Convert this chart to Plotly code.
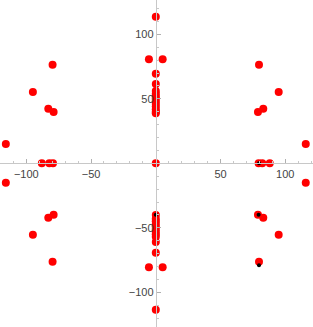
import plotly.graph_objects as go

# Red points
red_x = [0, 0, 0, 0, 0, 0, 0, 0, 0, 0, 0, 0, 0,
         0, 0, 0, 0, 0, 0, 0, 0, 0, 0, 0, 0,
         0,
         -5.3, 5.3, -5.3, 5.3,
         -79.7, 79.7, -79.7, 79.7,
         -94.9, 94.9, -94.9, 94.9,
         -83.0, 83.0, -83.0, 83.0,
         -78.9, 78.9, -78.9, 78.9,
         -115.8, 115.8, -115.8, 115.8,
         -88.0, 88.0, -82.2, 82.2, -79.4, 79.4]
red_y = [113.6, 69.5, 61.5, 56, 54, 52, 50, 48, 46, 44, 42, 40, 38.8,
         -113.6, -69.3, -61, -57, -55, -53, -51, -49, -47, -45, -43, -40,
         0,
         80.6, 80.6, -80.6, -80.6,
         76.4, 76.4, -76.4, -76.4,
         55.3, 55.3, -55.3, -55.3,
         42.3, 42.3, -42.3, -42.3,
         39.8, 39.8, -39.8, -39.8,
         15, 15, -15, -15,
         0, 0, 0, 0, 0, 0]

# Black points
black_x = [79.7, 0, 79.4, 79.7]
black_y = [0, -39.8, -39.8, -79.0]

x_ticks = [-100, -50, 50, 100]
y_ticks = [-100, -50, 50, 100]
minor_ticks = [v for v in range(-120, 130, 10) if v % 50 != 0]

x_range = [-120.3, 121.4]
y_range = [-126.9, 126.6]

fig = go.Figure()
fig.add_trace(go.Scatter(x=red_x, y=red_y, mode="markers",
                         marker=dict(color="#ff0000", size=8, line=dict(width=0)),
                         showlegend=False, cliponaxis=False))
fig.add_trace(go.Scatter(x=black_x, y=black_y, mode="markers",
                         marker=dict(color="#000000", size=4, line=dict(width=0)),
                         showlegend=False))

xpos = (0 - y_range[0]) / (y_range[1] - y_range[0])
ypos = (0 - x_range[0]) / (x_range[1] - x_range[0])

axis_common = dict(showgrid=False, zeroline=False, showline=True,
                   linecolor="#c8c8c8", linewidth=1,
                   ticks="inside", ticklen=4, tickcolor="#b0b0b0", tickwidth=1,
                   tickfont=dict(family="Liberation Sans, Arial, sans-serif",
                                 size=11, color="#444444"),
                   minor=dict(tickvals=minor_ticks, ticks="inside", ticklen=2.5,
                              tickcolor="#c8c8c8", tickwidth=1, showgrid=False))

fig.update_layout(
    width=313, height=327,
    margin=dict(l=0, r=0, t=0, b=0),
    paper_bgcolor="white", plot_bgcolor="white",
    xaxis=dict(range=x_range, tickvals=x_ticks, anchor="free", position=xpos,
               **axis_common),
    yaxis=dict(range=y_range, tickvals=y_ticks, anchor="free", position=ypos,
               **axis_common),
)

fig.write_html("out.html", config={"displayModeBar": False},
               post_script="document.body.style.margin='0';document.body.style.overflow='hidden';")
